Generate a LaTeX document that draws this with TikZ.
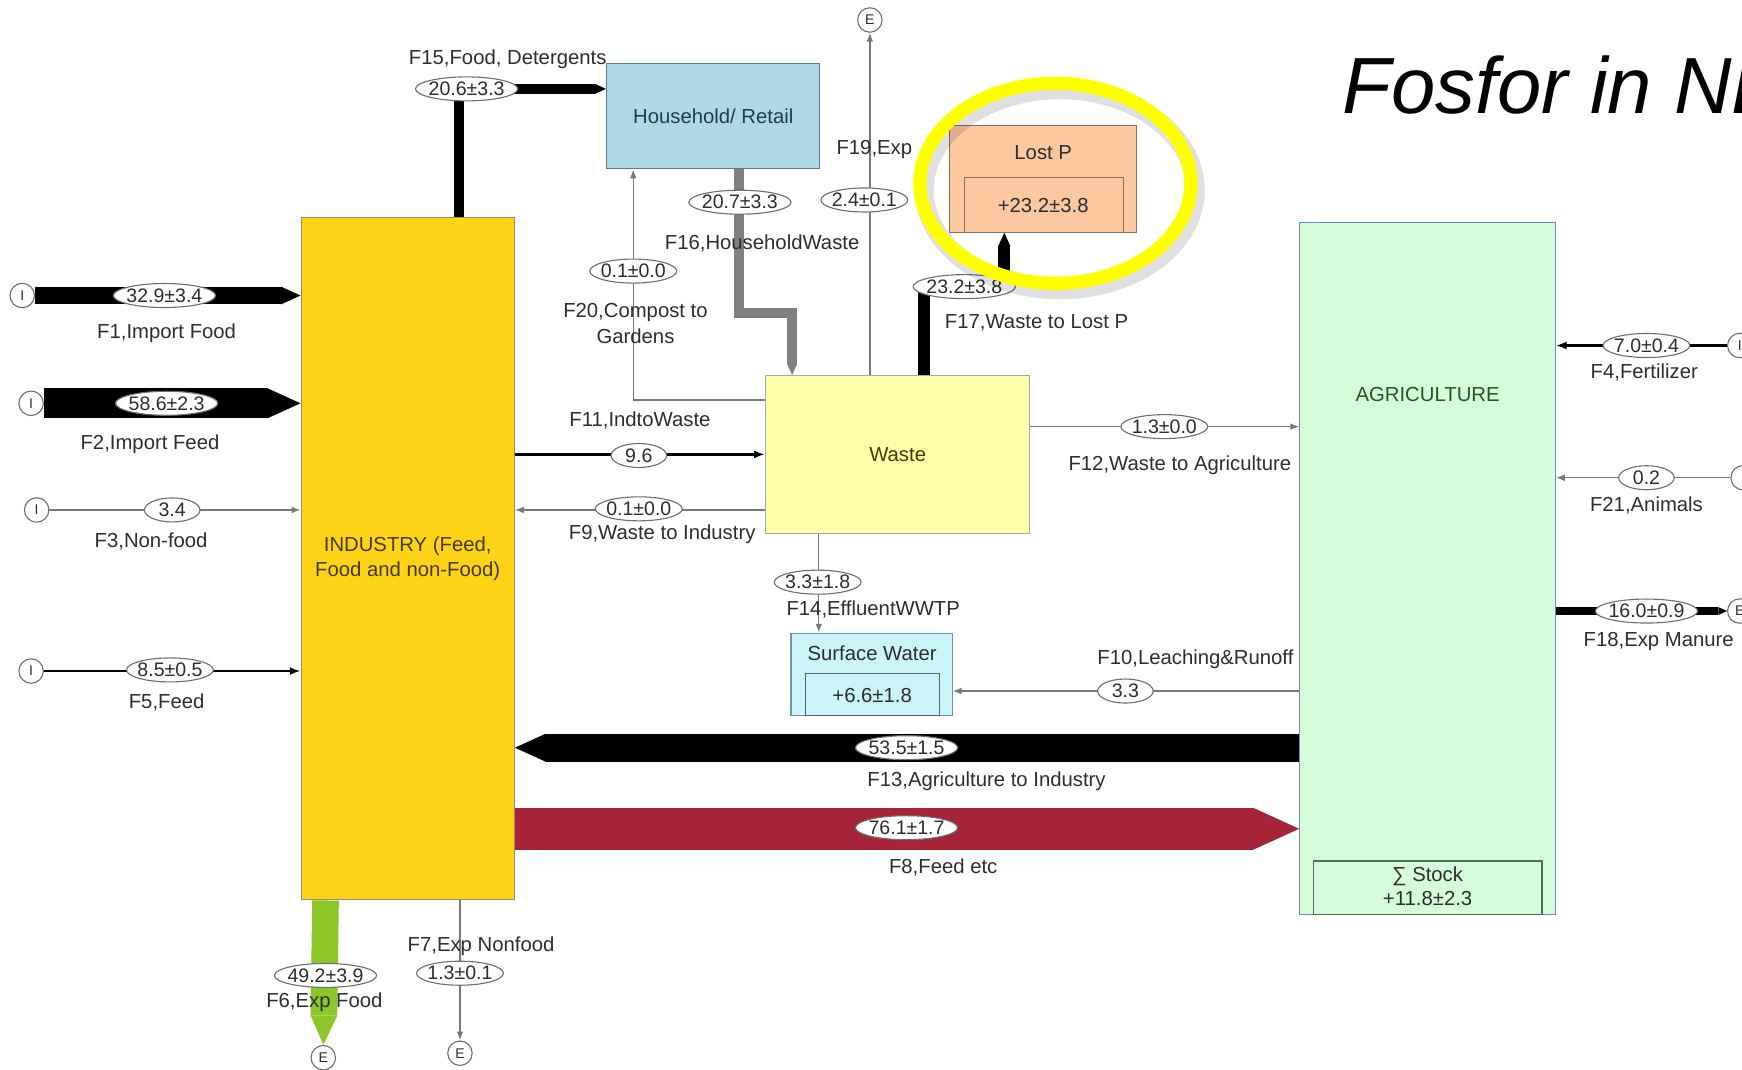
\documentclass[tikz,border=0pt]{standalone}
\usepackage{fontspec}
\setmainfont{Liberation Sans}
\usetikzlibrary{arrows.meta,shapes.geometric}

\definecolor{indyellow}{RGB}{252,211,22}
\definecolor{indline}{RGB}{150,140,110}
\definecolor{indtext}{RGB}{70,58,0}
\definecolor{hhblue}{RGB}{173,216,230}
\definecolor{hhline}{RGB}{100,120,140}
\definecolor{hhtext}{RGB}{30,60,90}
\definecolor{lostfill}{RGB}{251,200,160}
\definecolor{lostline}{RGB}{140,110,90}
\definecolor{wastefill}{RGB}{255,255,170}
\definecolor{wasteline}{RGB}{170,165,180}
\definecolor{swfill}{RGB}{204,245,250}
\definecolor{swline}{RGB}{110,150,160}
\definecolor{agrifill}{RGB}{213,253,217}
\definecolor{agriline}{RGB}{110,130,230}
\definecolor{stockline}{RGB}{80,110,90}
\definecolor{feedred}{RGB}{165,36,56}
\definecolor{foodgreen}{RGB}{140,198,40}
\definecolor{hwgray}{RGB}{128,128,128}
\definecolor{linegray}{RGB}{120,120,120}
\definecolor{valgray}{RGB}{110,110,110}
\definecolor{txtgray}{RGB}{45,45,45}
\definecolor{hlyellow}{RGB}{255,255,0}

\begin{document}
\begin{tikzpicture}[x=0.25mm,y=-0.25mm]
        % styles
        \tikzstyle{box}=[rectangle, draw, inner sep=0pt, line width=0.25mm, font=\fontsize{13}{16.5}\selectfont, align=center]
        \tikzstyle{boxtext}=[font=\fontsize{13}{16.5}\selectfont, align=center, inner sep=0pt]
        \tikzstyle{val}=[ellipse, draw=valgray, fill=white, line width=0.25mm, inner xsep=-0.4mm, inner ysep=0.5pt, minimum width=12.5mm, minimum height=5.4mm, font=\fontsize{12.5}{14}\selectfont, text=txtgray]
        \tikzstyle{flow}=[font=\fontsize{13}{16.5}\selectfont, text=txtgray, align=center, inner sep=0pt]
        \tikzstyle{term}=[circle, draw=valgray, fill=white, line width=0.25mm, minimum size=5.5mm, inner sep=0pt, font=\fontsize{9}{10}\selectfont, text=txtgray]
        \tikzstyle{thinflow}=[draw=linegray, line width=0.3mm, -{Latex[length=2mm, width=1.5mm]}]
        \tikzstyle{midflow}=[draw=black, -{Latex[length=2.4mm, width=1.8mm]}]
        \tikzstyle{band}=[-{Triangle[length=0pt 1.1, width=0pt 1, line width=0pt]}]
        \tikzstyle{heading}=[font=\fontsize{51}{56}\selectfont\itshape, inner sep=0pt, anchor=base west]

        \path[use as bounding box, clip] (0,0) rectangle (1568,963);

        % boxes
        \node[box, fill=indyellow, draw=indline, text=indtext, minimum width=48mm, minimum height=153.5mm] (ind) at (367,503) {INDUSTRY (Feed,\\Food and non-Food)};
        \node[box, fill=hhblue, draw=hhline, text=hhtext, minimum width=48mm, minimum height=23.75mm] (hh) at (642,104.5) {Household/ Retail};
        \node[box, fill=lostfill, draw=lostline, minimum width=42mm, minimum height=24mm] (lost) at (939,161) {};
        \node[box, draw=lostline, minimum width=35.75mm, minimum height=12.25mm] (lostin) at (939.5,184.5) {};
        \node[boxtext, text=txtgray] (lostt) at (939,137) {Lost P};
        \node[boxtext, text=txtgray] (lostv) at (939,185) {+23.2±3.8};
        \node[box, fill=wastefill, draw=wasteline, text=indtext, minimum width=59.5mm, minimum height=35.5mm] (waste) at (808,409) {Waste};
        \node[box, fill=swfill, draw=swline, minimum width=36.25mm, minimum height=18.5mm] (sw) at (784.5,607) {};
        \node[box, draw=swline!70!black, minimum width=30.25mm, minimum height=9.5mm] (swin) at (785.5,625) {};
        \node[boxtext, text=txtgray] (swt) at (785,588) {Surface Water};
        \node[boxtext, text=txtgray] (swv) at (785,626) {+6.6±1.8};
        \node[box, fill=agrifill, draw=agriline, minimum width=57.5mm, minimum height=155.75mm] (agri) at (1285,511.5) {};
        \node[box, draw=stockline, minimum width=51.5mm, minimum height=12mm] (stock) at (1285,799) {};
        \node[boxtext, text=txtgray!80!green] (agrit) at (1285,355) {AGRICULTURE};
        \node[boxtext, text=txtgray, font=\fontsize{13}{15.5}\selectfont] (stockt) at (1285,798) {∑ Stock\\+11.8±2.3};

        % import / export points
        \node[term] (c1) at (20,266) {I};
        \node[term] (c2) at (28,363) {I};
        \node[term] (c3) at (33,459) {I};
        \node[term] (c5) at (28,604) {I};
        \node[term] (c4) at (1566,311) {I};
        \node[term] (c21) at (1569,430) {I};
        \node[term] (e18) at (1566,550) {E};
        \node[term] (e19) at (783,18) {E};
        \node[term] (e6) at (291,952) {E};
        \node[term] (e7) at (414,948) {E};

        % flows
        \coordinate (k15) at (413,80);
        \coordinate (k16) at (665,282);
        \coordinate (k17) at (832,258);
        \draw[band, line width=4mm] (c1) -- (ind.west |- c1);
        \draw[band, line width=6.75mm] (c2) -- (ind.west |- c2);
        \draw[thinflow] (c3) -- (ind.west |- c3);
        \draw[midflow, line width=0.6mm] (c5) -- (ind.west |- c5);
        \draw[band, line width=2.25mm] (ind.north -| k15) -- (k15) -- (hh.west |- k15);
        \draw[band, draw=hwgray, line width=2.25mm] (hh.south -| k16) -- (k16) -| (waste.north -| 713,0);
        \draw[thinflow] (waste.west |- 0,360) -| (hh.south -| 570,0);
        \draw[thinflow] (waste.north -| 783,0) -- (e19);
        \draw[band, line width=2.75mm] (waste.north -| k17) -- (k17) -| (lost.south -| 904,0);
        \draw[midflow, line width=0.75mm] (ind.east |- 0,409) -- (waste.west |- 0,409);
        \draw[thinflow] (waste.west |- 0,459) -- (ind.east |- 0,459);
        \draw[thinflow] (waste.east |- 0,384) -- (agri.west |- 0,384);
        \draw[thinflow] (waste.south -| 737,0) -- (sw.north -| 737,0);
        \draw[thinflow] (agri.west |- 0,622) -- (sw.east |- 0,622);
        \draw[band, line width=6.25mm] (agri.west |- 0,673) -- (ind.east |- 0,673);
        \draw[band, draw=feedred, line width=9.5mm] (ind.east |- 0,746) -- (agri.west |- 0,746);
        \draw[band, draw=foodgreen, line width=6mm] (ind.south -| 293,0) -- (e6);
        \draw[thinflow] (ind.south -| 414,0) -- (e7);
        \draw[midflow, line width=0.6mm] (c4) -- (agri.east |- c4);
        \draw[thinflow] (c21) -- (agri.east |- c21);
        \draw[band, line width=1.75mm] (agri.east |- e18) -- (e18);

        % values
        \node[val] (v1) at (148,266) {32.9±3.4};
        \node[val] (v2) at (150,363) {58.6±2.3};
        \node[val] (v3) at (155,459) {3.4};
        \node[val] (v5) at (153,603) {8.5±0.5};
        \node[val] (v15) at (420,80) {20.6±3.3};
        \node[val] (v16) at (666,182) {20.7±3.3};
        \node[val] (v20) at (570,244) {0.1±0.0};
        \node[val] (v19) at (778,180) {2.4±0.1};
        \node[val] (v17) at (868,258) {23.2±3.8};
        \node[val] (v11) at (575,410) {9.6};
        \node[val] (v9) at (575,458) {0.1±0.0};
        \node[val] (v12) at (1048,384) {1.3±0.0};
        \node[val] (v14) at (736,524) {3.3±1.8};
        \node[val] (v10) at (1013,622) {3.3};
        \node[val] (v13) at (816,673) {53.5±1.5};
        \node[val] (v8) at (816,745) {76.1±1.7};
        \node[val] (v6) at (293,878) {49.2±3.9};
        \node[val] (v7) at (414,876) {1.3±0.1};
        \node[val] (v4) at (1482,311) {7.0±0.4};
        \node[val] (v21) at (1482,430) {0.2};
        \node[val] (v18) at (1482,550) {16.0±0.9};

        % flow names
        \node[flow] (l1) at (150,300) {F1,Import Food};
        \node[flow] (l2) at (135,400) {F2,Import Feed};
        \node[flow] (l3) at (136,487) {F3,Non-food};
        \node[flow] (l5) at (150,632) {F5,Feed};
        \node[flow] (l15) at (457,53) {F15,Food, Detergents};
        \node[flow] (l16) at (686,219) {F16,HouseholdWaste};
        \node[flow] (l20) at (572,291) {F20,Compost to\\Gardens};
        \node[flow] (l19) at (787,135) {F19,Exp};
        \node[flow] (l17) at (933,291) {F17,Waste to Lost P};
        \node[flow] (l11) at (576,378) {F11,IndtoWaste};
        \node[flow] (l9) at (596,481) {F9,Waste to Industry};
        \node[flow] (l12) at (1062,419) {F12,Waste to Agriculture};
        \node[flow] (l14) at (786,549) {F14,EffluentWWTP};
        \node[flow] (l10) at (1076,593) {F10,Leaching\&Runoff};
        \node[flow] (l13) at (888,703) {F13,Agriculture to Industry};
        \node[flow] (l8) at (849,781) {F8,Feed etc};
        \node[flow] (l6) at (292,902) {F6,Exp Food};
        \node[flow] (l7) at (433,852) {F7,Exp Nonfood};
        \node[flow] (l4) at (1480,335) {F4,Fertilizer};
        \node[flow] (l21) at (1482,455) {F21,Animals};
        \node[flow] (l18) at (1493,577) {F18,Exp Manure};

        % highlight
        \draw[black, opacity=0.12, line width=4.2mm] (954,171) ellipse [x radius=30.5mm, y radius=22.5mm];
        \draw[hlyellow, line width=3mm] (950,165) ellipse [x radius=30.5mm, y radius=22.5mm];

        % title
        \node[heading] (ttl) at (1208,102) {Fosfor in NL};
\end{tikzpicture}
\end{document}
